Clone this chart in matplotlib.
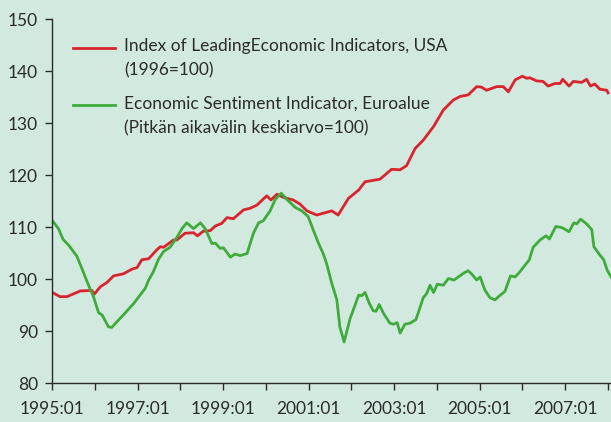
import matplotlib

matplotlib.use("Agg")
import matplotlib.pyplot as plt
import numpy as np

# Index of Leading Economic Indicators, USA (decimal year, value)
usa_t = [1995.01, 1995.19, 1995.35, 1995.66, 1995.93, 1995.99, 1996.13, 1996.28, 1996.44,
         1996.67, 1996.87, 1996.99, 1997.10, 1997.26, 1997.45, 1997.53, 1997.61, 1997.84,
         1997.92, 1998.11, 1998.31, 1998.40, 1998.54, 1998.70, 1998.82, 1998.97, 1999.09,
         1999.24, 1999.48, 1999.63, 1999.79, 2000.02, 2000.12, 2000.26, 2000.41, 2000.64,
         2000.80, 2000.96, 2001.19, 2001.54, 2001.69, 2001.93, 2002.17, 2002.32, 2002.67,
         2002.94, 2003.14, 2003.29, 2003.49, 2003.68, 2003.92, 2004.15, 2004.38, 2004.54,
         2004.73, 2004.93, 2005.04, 2005.16, 2005.40, 2005.55, 2005.67, 2005.83, 2006.00,
         2006.10, 2006.17, 2006.33, 2006.48, 2006.60, 2006.76, 2006.88, 2006.94, 2007.09,
         2007.19, 2007.38, 2007.50, 2007.59, 2007.69, 2007.81, 2007.97, 2008.00]
usa_v = [97.4, 96.6, 96.6, 97.7, 97.8, 97.1, 98.5, 99.3, 100.6,
         101.0, 101.9, 102.2, 103.7, 103.9, 105.6, 106.2, 106.1, 107.5,
         107.5, 108.8, 108.9, 108.3, 109.2, 109.3, 110.2, 110.7, 111.8,
         111.6, 113.3, 113.6, 114.2, 116.0, 115.2, 116.3, 115.7, 115.2,
         114.4, 113.1, 112.3, 113.1, 112.3, 115.5, 117.1, 118.7, 119.2,
         121.1, 121.0, 121.8, 125.1, 126.7, 129.3, 132.5, 134.4, 135.1,
         135.4, 137.0, 136.9, 136.3, 137.0, 137.0, 136.0, 138.3, 139.0,
         138.6, 138.7, 138.1, 138.0, 137.1, 137.6, 137.6, 138.4, 137.1,
         138.0, 137.8, 138.4, 137.1, 137.5, 136.5, 136.3, 135.8]

# Economic Sentiment Indicator, euro area (decimal year, value)
esi_t = [1995.00, 1995.15, 1995.26, 1995.39, 1995.58, 1995.70, 1995.82, 1995.97, 1996.09,
         1996.17, 1996.32, 1996.40, 1996.52, 1996.67, 1996.91, 1997.18, 1997.26, 1997.37,
         1997.49, 1997.61, 1997.76, 1997.92, 1998.04, 1998.15, 1998.31, 1998.47, 1998.58,
         1998.74, 1998.82, 1998.93, 1999.01, 1999.17, 1999.28, 1999.40, 1999.56, 1999.71,
         1999.83, 1999.94, 2000.10, 2000.22, 2000.36, 2000.49, 2000.57, 2000.68, 2000.84,
         2000.99, 2001.11, 2001.23, 2001.34, 2001.42, 2001.54, 2001.66, 2001.73, 2001.83,
         2001.97, 2002.06, 2002.17, 2002.24, 2002.32, 2002.42, 2002.51, 2002.58, 2002.65,
         2002.75, 2002.90, 2002.98, 2003.07, 2003.14, 2003.25, 2003.37, 2003.51, 2003.68,
         2003.76, 2003.84, 2003.92, 2004.01, 2004.15, 2004.27, 2004.40, 2004.50, 2004.62,
         2004.73, 2004.83, 2004.93, 2005.01, 2005.12, 2005.24, 2005.36, 2005.48, 2005.59,
         2005.72, 2005.83, 2005.94, 2006.16, 2006.25, 2006.41, 2006.55, 2006.63, 2006.78,
         2006.92, 2007.09, 2007.20, 2007.27, 2007.36, 2007.50, 2007.62, 2007.67, 2007.81,
         2007.90, 2007.98, 2008.07]
esi_v = [111.3, 109.7, 107.6, 106.5, 104.4, 102.0, 99.5, 96.6, 93.5,
         93.1, 90.8, 90.7, 91.8, 93.1, 95.3, 98.2, 99.8, 101.4,
         103.8, 105.3, 106.1, 108.0, 109.7, 110.8, 109.7, 110.8, 109.7,
         106.8, 106.9, 105.9, 106.0, 104.2, 104.8, 104.5, 104.9, 108.8,
         110.8, 111.2, 113.1, 115.3, 116.5, 115.3, 114.7, 113.8, 113.1,
         112.0, 109.4, 106.9, 104.9, 103.0, 99.2, 96.0, 90.8, 87.9,
         92.4, 94.4, 96.9, 96.8, 97.4, 95.3, 93.9, 93.8, 95.1,
         93.4, 91.5, 91.3, 91.6, 89.6, 91.3, 91.5, 92.2, 96.4,
         97.2, 98.8, 97.4, 99.0, 98.8, 100.1, 99.8, 100.4, 101.1,
         101.6, 100.8, 99.8, 100.4, 97.9, 96.4, 96.0, 96.9, 97.6,
         100.6, 100.4, 101.4, 103.7, 106.1, 107.5, 108.3, 107.7, 110.1,
         109.9, 109.1, 110.8, 110.6, 111.5, 110.6, 109.5, 106.2, 104.6,
         103.7, 101.7, 100.4]

usa_label = ["Index of LeadingEconomic Indicators, USA", "(1996=100)"]
esi_label = ["Economic Sentiment Indicator, Euroalue", "(Pitkän aikavälin keskiarvo=100)"]

BG = "#d2e9e0"
RED = "#d9232d"
GREEN = "#3fab3a"
INK = "#2b2b2b"
FS = 12.5

plt.rcParams["font.family"] = ["Lato", "DejaVu Sans"]

fig = plt.figure(figsize=(6.11, 4.22), dpi=100, facecolor=BG)
ax = fig.add_axes([52 / 611, 1 - 383 / 422, (611 - 52) / 611, 364 / 422], facecolor=BG)

ax.plot(usa_t, usa_v, color=RED, lw=2.0, solid_joinstyle="round")
ax.plot(esi_t, esi_v, color=GREEN, lw=2.0, solid_joinstyle="round")

ax.set_xlim(1995.0, 2008.07)
ax.set_ylim(80, 150)
ax.set_yticks(np.arange(80, 151, 10))
ax.set_xticks(range(1995, 2009, 2))
ax.set_xticklabels([f"{y}:01" for y in range(1995, 2009, 2)])
ax.set_xticks(range(1996, 2009, 2), minor=True)

for side in ("top", "right"):
    ax.spines[side].set_visible(False)
for side in ("left", "bottom"):
    ax.spines[side].set_color(INK)
    ax.spines[side].set_linewidth(1.0)

ax.tick_params(which="both", direction="out", length=5, width=1.0, color=INK,
               labelcolor=INK, labelsize=FS)
ax.tick_params(axis="x", pad=8)
ax.tick_params(axis="y", pad=5)

# legend drawn by hand: handle sits next to the first text line
for (y_line, y_text2), color, label in [((0.921, 0.859), RED, usa_label),
                                        ((0.763, 0.700), GREEN, esi_label)]:
    ax.plot([0.038, 0.113], [y_line, y_line], color=color, lw=2.0,
            transform=ax.transAxes, clip_on=False)
    ax.text(0.129, y_line + 0.004, label[0], transform=ax.transAxes,
            fontsize=FS, color=INK, va="center", ha="left")
    ax.text(0.129, y_text2, label[1], transform=ax.transAxes,
            fontsize=FS, color=INK, va="center", ha="left")

fig.savefig("out.png", dpi=100, facecolor=BG)
